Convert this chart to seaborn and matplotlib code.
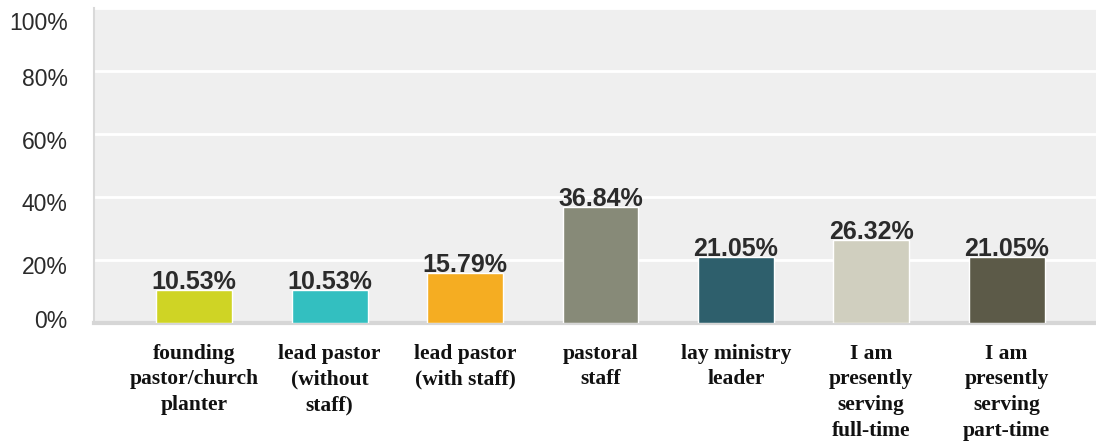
import matplotlib
matplotlib.use("Agg")
import matplotlib.pyplot as plt
import matplotlib.transforms as mtransforms
import seaborn as sns
import pandas as pd

# Survey responses: current ministry role
categories = [
    "founding\npastor/church\nplanter",
    "lead pastor\n(without\nstaff)",
    "lead pastor\n(with staff)",
    "pastoral\nstaff",
    "lay ministry\nleader",
    "I am\npresently\nserving\nfull-time",
    "I am\npresently\nserving\npart-time",
]
percentages = [10.53, 10.53, 15.79, 36.84, 21.05, 26.32, 21.05]
bar_colors = ["#cfd425", "#33bfc0", "#f5ad22", "#878a78", "#2e5f6c", "#d0cfbf", "#5c5a48"]
y_ticks = [0, 20, 40, 60, 80, 100]
y_tick_labels = ["0%", "20%", "40%", "60%", "80%", "100%"]

df = pd.DataFrame({"role": categories, "pct": percentages})

sns.set_theme(style="white")
plt.rcParams["font.family"] = ["Liberation Sans", "DejaVu Sans"]

fig = plt.figure(figsize=(10.96, 4.41), dpi=100)
ax = fig.add_axes([0.0858, 0.268, 0.9142, 0.714])
ax.set_facecolor("#efefef")

sns.barplot(data=df, x="role", y="pct", hue="role", palette=bar_colors,
            legend=False, width=0.56, saturation=1, ax=ax, zorder=3)

ax.set_ylim(0, 100)
ax.set_xlim(-0.74, 6.66)
ax.set_yticks(y_ticks)
ax.set_yticklabels(y_tick_labels, fontsize=16.5, color="#2b2b2b")
ax.yaxis.grid(True, color="white", linewidth=2, zorder=0)
ax.set_axisbelow(True)
ax.tick_params(axis="y", length=0, pad=19)
ax.tick_params(axis="x", length=0, pad=15)
ax.set_xlabel("")
ax.set_ylabel("")

# y labels sit slightly below their gridlines
label_shift_px = [-4, 5, 5, 6, 6, 13]
for lbl, dy in zip(ax.get_yticklabels(), label_shift_px):
    lbl.set_transform(lbl.get_transform() +
                      mtransforms.ScaledTranslation(0, -dy / 100, fig.dpi_scale_trans))

for lbl in ax.get_xticklabels():
    lbl.set_fontfamily(["Liberation Serif", "DejaVu Serif"])
    lbl.set_fontweight("bold")
    lbl.set_fontsize(15.5)
    lbl.set_color("#111111")
    lbl.set_verticalalignment("top")
    lbl.set_horizontalalignment("center")
    lbl.set_linespacing(1.38)

for spine in ["top", "right"]:
    ax.spines[spine].set_visible(False)
ax.spines["left"].set_color("#d9d9d9")
ax.spines["left"].set_linewidth(1.5)
ax.spines["bottom"].set_color("#d6d6d6")
ax.spines["bottom"].set_linewidth(3)

for container in ax.containers:
    ax.bar_label(container, labels=[f"{v:.2f}%" for v in container.datavalues],
                 fontsize=18, fontweight="bold", color="#2b2b2b", padding=-3)

fig.savefig("out.png", dpi=100)
